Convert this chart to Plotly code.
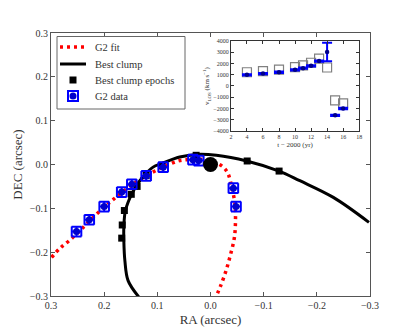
import plotly.graph_objects as go

# --- main panel data (arcsec) ---
fit_ra = [0.299, 0.283, 0.264, 0.239, 0.214, 0.189, 0.170, 0.145, 0.120, 0.089, 0.058, 0.033,
          0.007, -0.008, -0.024, -0.033, -0.040, -0.046, -0.047, -0.045, -0.038, -0.029, -0.019, -0.011]
fit_dec = [-0.212, -0.191, -0.172, -0.143, -0.113, -0.086, -0.067, -0.044, -0.025, -0.006, 0.009, 0.011,
           0.011, 0.005, -0.006, -0.021, -0.052, -0.090, -0.128, -0.166, -0.204, -0.243, -0.277, -0.300]

clump_ra = [0.135, 0.155, 0.161, 0.163, 0.163, 0.160, 0.148, 0.133, 0.108, 0.092, 0.058, 0.026,
            -0.011, -0.068, -0.129, -0.168, -0.231, -0.298]
clump_dec = [-0.302, -0.265, -0.220, -0.174, -0.143, -0.105, -0.067, -0.037, -0.006, 0.002, 0.017, 0.023,
             0.021, 0.008, -0.015, -0.037, -0.075, -0.132]

epoch_ra = [0.167, 0.166, 0.162, 0.149, 0.138, 0.121, 0.092, 0.027, -0.069, -0.129]
epoch_dec = [-0.168, -0.138, -0.105, -0.068, -0.050, -0.025, -0.002, 0.021, 0.008, -0.015]

g2_ra = [0.252, 0.228, 0.200, 0.167, 0.148, 0.121, 0.089, 0.033, 0.022, -0.043, -0.048]
g2_dec = [-0.153, -0.126, -0.096, -0.063, -0.045, -0.026, -0.006, 0.011, 0.009, -0.054, -0.096]
g2_err_ra = 0.009
g2_err_dec = 0.011

# --- inset data ---
t_obs = [4, 6, 8, 10, 11, 12, 13, 14, 15, 16]
v_obs = [990, 1100, 1220, 1430, 1580, 1790, 2210, 3010, -2600, -2000]
v_err = [60, 60, 60, 60, 60, 60, 60, 820, 60, 60]
t_mod = [4, 6, 8, 10, 11, 12, 13, 14, 15, 16]
v_mod = [1220, 1310, 1460, 1670, 1820, 2060, 2420, 1640, -1280, -1550]

legend_labels = ["G2 fit", "Best clump", "Best clump epochs", "G2 data"]

FONT = "Liberation Serif"
RED_DOT = "3px,4px"

fig = go.Figure()

fig.add_trace(go.Scatter(x=fit_ra, y=fit_dec, mode="lines", name="G2 fit", line_shape="spline",
                         line=dict(color="red", width=3.5, dash=RED_DOT)))
fig.add_trace(go.Scatter(x=clump_ra, y=clump_dec, mode="lines", name="Best clump", line_shape="spline",
                         line=dict(color="black", width=3)))
fig.add_trace(go.Scatter(x=epoch_ra, y=epoch_dec, mode="markers", name="Best clump epochs",
                         marker=dict(symbol="square", size=7, color="black")))
fig.add_trace(go.Scatter(x=g2_ra, y=g2_dec, mode="markers", name="G2 data",
                         marker=dict(symbol="circle", size=7, color="#0000cc"),
                         error_x=dict(type="constant", value=g2_err_ra, color="blue", thickness=2, width=5),
                         error_y=dict(type="constant", value=g2_err_dec, color="blue", thickness=2, width=5)))
# central black hole
fig.add_trace(go.Scatter(x=[0.0], y=[0.0], mode="markers", name="Sgr A*",
                         marker=dict(symbol="circle", size=15, color="black")))

# inset
fig.add_trace(go.Scatter(x=t_mod, y=v_mod, mode="markers", xaxis="x2", yaxis="y2",
                         marker=dict(symbol="square-open", size=9, color="#808080", line=dict(width=1.2))))
fig.add_trace(go.Scatter(x=t_obs, y=v_obs, mode="markers", xaxis="x2", yaxis="y2",
                         marker=dict(symbol="circle", size=4.5, color="#00008b"),
                         error_y=dict(type="data", array=v_err, color="blue", thickness=2, width=5)))

# --- hand-drawn legend (matplotlib-like compact spacing) ---
# plot area in page pixels: x 51..370, y 33..296
def px(x):
    return (x - 51) / 319.0


def py(y):
    return (296 - y) / 263.0


shapes = [dict(type="rect", xref="paper", yref="paper", x0=px(57), x1=px(185), y0=py(109), y1=py(36.5),
               fillcolor="white", line=dict(color="#666", width=1), layer="above")]
rows = [47, 64, 80, 96]
shapes.append(dict(type="line", xref="paper", yref="paper", x0=px(60), x1=px(86), y0=py(rows[0]), y1=py(rows[0]),
                   line=dict(color="red", width=3.5, dash=RED_DOT), layer="above"))
shapes.append(dict(type="line", xref="paper", yref="paper", x0=px(60), x1=px(86), y0=py(rows[1]), y1=py(rows[1]),
                   line=dict(color="black", width=3), layer="above"))
shapes.append(dict(type="rect", xref="paper", yref="paper", x0=px(69.5), x1=px(76.5),
                   y0=py(rows[2] + 3.5), y1=py(rows[2] - 3.5), fillcolor="black", line=dict(width=0), layer="above"))
shapes.append(dict(type="rect", xref="paper", yref="paper", x0=px(68), x1=px(78),
                   y0=py(rows[3] + 5), y1=py(rows[3] - 5), fillcolor="rgba(0,0,0,0)",
                   line=dict(color="blue", width=2), layer="above"))
shapes.append(dict(type="circle", xref="paper", yref="paper", x0=px(69.5), x1=px(76.5),
                   y0=py(rows[3] + 3.5), y1=py(rows[3] - 3.5), fillcolor="#0000cc", line=dict(width=0), layer="above"))

annotations = [dict(text=lab, xref="paper", yref="paper", x=px(92.5), y=py(r), xanchor="left", yanchor="middle",
                    showarrow=False, font=dict(family=FONT, size=10.5, color="#333"))
               for lab, r in zip(legend_labels, rows)]

axis_main = dict(showgrid=False, zeroline=False, ticks="inside", mirror="ticks", showline=True,
                 linecolor="#555", linewidth=1, tickcolor="#555", ticklen=4, automargin=False,
                 tickfont=dict(family=FONT, size=10, color="#333"))
axis_inset = dict(showgrid=False, zeroline=False, ticks="inside", mirror="ticks", showline=True,
                  linecolor="#333", linewidth=1, tickcolor="#333", ticklen=3, automargin=False,
                  tickfont=dict(family=FONT, size=6, color="#333"))

# page body keeps an 8px margin, so the figure is 8px smaller and margins shifted
fig.update_layout(
    width=403, height=321,
    margin=dict(l=43, r=41, t=25, b=33, autoexpand=False),
    paper_bgcolor="white", plot_bgcolor="white",
    font=dict(family=FONT, color="#333"),
    showlegend=False,
    shapes=shapes,
    annotations=annotations,
    xaxis=dict(axis_main, range=[0.3, -0.3], dtick=0.1, tickformat=".1f",
               title=dict(text="RA (arcsec)", font=dict(family=FONT, size=13, color="#333"), standoff=4)),
    yaxis=dict(axis_main, range=[-0.3, 0.3], dtick=0.1, tickformat=".1f",
               title=dict(text="DEC (arcsec)", font=dict(family=FONT, size=13, color="#333"), standoff=4)),
    xaxis2=dict(axis_inset, domain=[0.564, 0.966], anchor="y2", range=[2, 18], dtick=2,
                title=dict(text="t − 2000 (yr)", font=dict(family=FONT, size=7, color="#333"), standoff=2)),
    yaxis2=dict(axis_inset, domain=[0.627, 0.970], anchor="x2", range=[-4000, 4000], dtick=1000,
                title=dict(text="v<sub>LOS</sub> (km s<sup>−1</sup>)", font=dict(family=FONT, size=7, color="#333"),
                           standoff=2)),
)

fig.write_html("out.html")
